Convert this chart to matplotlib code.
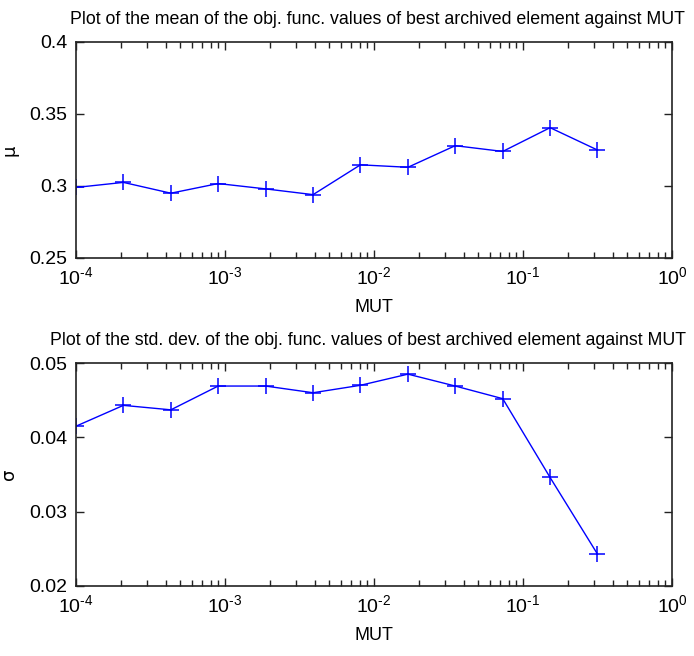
import matplotlib
matplotlib.use("Agg")
import matplotlib.pyplot as plt
from matplotlib.ticker import LogLocator, FixedLocator, NullFormatter, FuncFormatter
import math

# mutation rates tested
mut = [1.0e-4, 2.08e-4, 4.33e-4, 9.0e-4, 1.87e-3, 3.9e-3,
       8.11e-3, 1.69e-2, 3.51e-2, 7.31e-2, 0.152, 0.316]
# mean objective value of the best archived element
mean_vals = [0.299, 0.3025, 0.295, 0.3017, 0.298, 0.294,
             0.3147, 0.313, 0.328, 0.324, 0.3405, 0.325]
# standard deviation of the objective value
std_vals = [0.0415, 0.0443, 0.0437, 0.0469, 0.0469, 0.0460,
            0.0470, 0.0485, 0.0469, 0.0452, 0.0346, 0.0243]

mean_yticks = [0.25, 0.3, 0.35, 0.4]
std_yticks = [0.02, 0.03, 0.04, 0.05]

family = "Liberation Sans"
plt.rcParams["font.family"] = [family, "DejaVu Sans"]
plt.rcParams["mathtext.fontset"] = "custom"
plt.rcParams["mathtext.rm"] = family
plt.rcParams["mathtext.it"] = family

W, H = 694, 656
fig = plt.figure(figsize=(W / 100, H / 100), dpi=100)

def add_axes(left, top, right, bottom):
    return fig.add_axes([left / W, 1 - bottom / H, (right - left) / W, (bottom - top) / H])

ax1 = add_axes(76, 42, 672, 258)
ax2 = add_axes(76, 363, 672, 586)

def pow_label(x, pos):
    e = int(round(math.log10(x)))
    if e < 0:
        return "$\\mathrm{10}^{\\mathrm{\u2010" + str(-e) + "}}$"
    return "$\\mathrm{10}^{\\mathrm{" + str(e) + "}}$"

def style(ax, yvals, yticks, ylabel, title, title_x):
    ax.plot(mut, yvals, color="#0000ff", lw=1.0, marker="+", ms=11, mew=1.1)
    ax.set_xscale("log")
    ax.set_xlim(1e-4, 1)
    ax.set_ylim(yticks[0], yticks[-1])
    ax.yaxis.set_major_locator(FixedLocator(yticks))
    ax.set_yticklabels([f"{t:g}" for t in yticks])
    ax.xaxis.set_major_locator(LogLocator(base=10, numticks=10))
    ax.xaxis.set_major_formatter(FuncFormatter(pow_label))
    ax.xaxis.set_minor_locator(LogLocator(base=10, subs=range(2, 10), numticks=10))
    ax.xaxis.set_minor_formatter(NullFormatter())
    ax.tick_params(which="both", direction="in", top=True, right=True,
                   labelsize=14, color="#222222", pad=6)
    ax.tick_params(which="major", length=6, width=1)
    ax.tick_params(which="minor", length=4, width=1)
    for s in ax.spines.values():
        s.set_color("#222222")
        s.set_linewidth(1.2)
    ax.set_xlabel("MUT", fontsize=13, labelpad=8)
    ax.set_ylabel(ylabel, fontsize=13, family="DejaVu Sans", labelpad=8)
    ax.set_title(title, fontsize=12.8, pad=13, x=title_x)

style(ax1, mean_vals, mean_yticks, "μ",
      "Plot of the mean of the obj. func. values of best archived element against MUT", 0.505)
style(ax2, std_vals, std_yticks, "σ",
      "Plot of the std. dev. of the obj. func. values of best archived element against MUT", 0.49)

fig.savefig("out.png", dpi=100)
